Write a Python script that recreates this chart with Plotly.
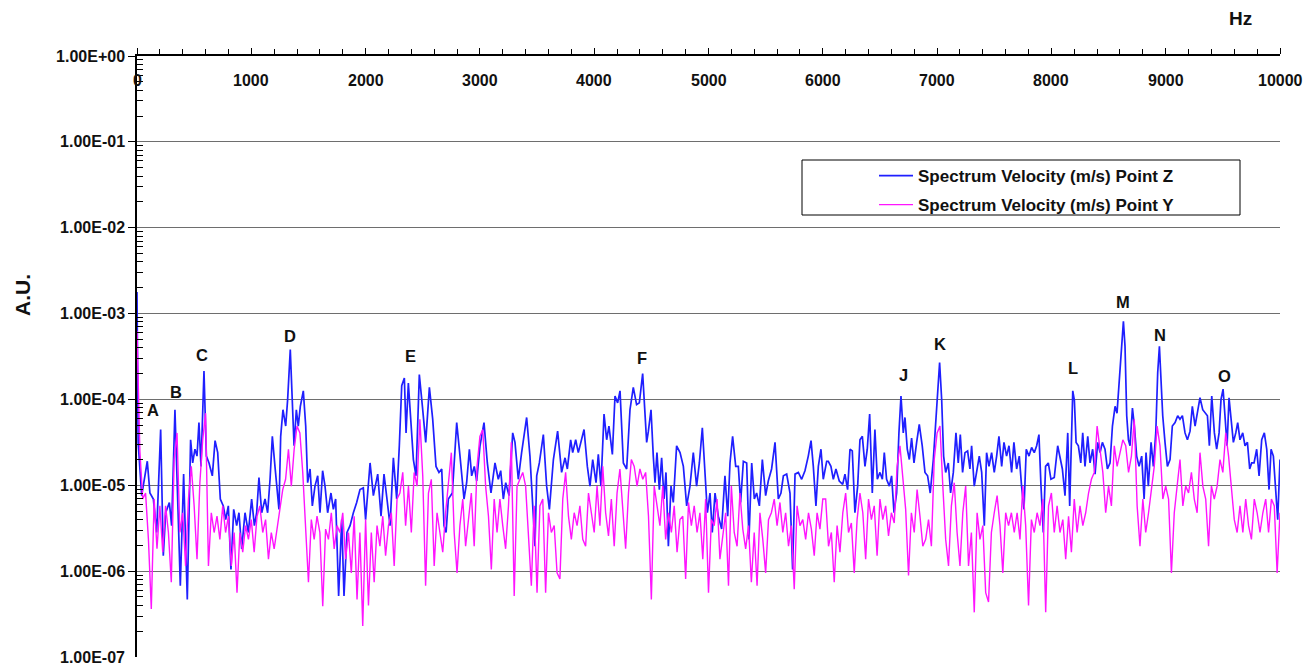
import numpy as np
import plotly.graph_objects as go

# ---------------- data ----------------
# Point Z spectrum: frequency (Hz) and log10 of amplitude
z_freq = [0, 10, 41, 90, 113, 143, 172, 207, 230, 251, 283, 303, 332, 353, 379, 408, 440, 469, 487, 507,
          525, 542, 560, 586, 607, 630, 659, 683, 706, 729, 755, 776, 799, 822, 846, 872, 892, 916, 945, 974,
          1003, 1027, 1047, 1067, 1091, 1120, 1143, 1164, 1184, 1207, 1225, 1242, 1257, 1277, 1301, 1318, 1341,
          1359, 1374, 1394, 1411, 1429, 1455, 1476, 1493, 1514, 1534, 1557, 1581, 1601, 1624, 1645, 1668, 1697,
          1718, 1738, 1764, 1791, 1811, 1837, 1864, 1893, 1922, 1951, 1980, 2000,
          2039, 2068, 2106, 2135, 2161, 2187, 2214, 2243, 2272, 2295, 2316, 2339, 2354, 2374, 2397, 2418, 2441,
          2470, 2497, 2526, 2558, 2587, 2616, 2642, 2666, 2686, 2704, 2724, 2759, 2797, 2826, 2861, 2884, 2908,
          2928, 2951, 2972, 3001, 3036, 3065, 3097, 3132, 3161, 3182, 3205, 3226, 3255, 3287, 3307, 3336, 3365,
          3409, 3438, 3462, 3482, 3497, 3520, 3555, 3584, 3608, 3643, 3680, 3715, 3745, 3765, 3794, 3812, 3838,
          3861, 3911, 3940, 3963, 3987, 4016,
          4036, 4059, 4086, 4109, 4129, 4159, 4182, 4205, 4226, 4255, 4284, 4313, 4342, 4371, 4395, 4424, 4444,
          4459, 4474, 4497, 4517, 4532, 4549, 4570, 4590, 4611, 4628, 4649, 4672, 4692, 4721, 4751, 4780, 4809,
          4838, 4867, 4896, 4920, 4946, 4969, 4990, 5013, 5033, 5057, 5086, 5115, 5144, 5168, 5188, 5211, 5238,
          5261, 5281, 5305, 5334, 5354, 5378, 5401, 5421, 5445, 5471, 5500, 5523, 5552, 5582, 5611, 5634, 5655,
          5684, 5713, 5736, 5757, 5786, 5815, 5844, 5873, 5897, 5917, 5940, 5961, 5984, 6004, 6034,
          6048, 6071, 6092, 6115, 6144, 6174, 6194, 6217, 6238, 6258, 6281, 6305, 6325, 6346, 6369, 6389, 6410,
          6433, 6456, 6477, 6500, 6521, 6538, 6558, 6582, 6602, 6623, 6646, 6666, 6684, 6704, 6719, 6739, 6757,
          6777, 6798, 6821, 6844, 6870, 6894, 6917, 6940, 6967, 6987, 7005, 7022, 7040, 7057, 7075, 7098, 7118,
          7142, 7165, 7185, 7203, 7223, 7244, 7267, 7287, 7302, 7325, 7346, 7369, 7390, 7413, 7433, 7454, 7477,
          7500, 7521, 7541, 7565, 7585, 7608, 7629, 7652, 7672, 7696, 7719, 7739, 7760, 7780, 7804, 7827, 7850,
          7871, 7891, 7909, 7929, 7949, 7973, 7996, 8025,
          8055, 8076, 8096, 8119, 8143, 8160, 8172, 8187, 8201, 8216, 8236, 8257, 8274, 8294, 8318, 8338, 8361,
          8382, 8405, 8426, 8446, 8469, 8490, 8513, 8534, 8557, 8574, 8592, 8609, 8630, 8644, 8659, 8674, 8688,
          8709, 8726, 8746, 8767, 8790, 8811, 8828, 8848, 8872, 8892, 8913, 8930, 8945, 8959, 8974, 8994, 9015,
          9038, 9058, 9082, 9105, 9125, 9146, 9169, 9190, 9213, 9233, 9257, 9280, 9300, 9324, 9344, 9365, 9382,
          9403, 9426, 9446, 9467, 9484, 9502, 9519, 9537, 9554, 9572, 9592, 9613, 9630, 9650, 9674, 9694, 9715,
          9735, 9752, 9773, 9796, 9817, 9840, 9863, 9884, 9904, 9922, 9942, 9962, 9980, 10000]

z_log = [-2.75, -4.50, -5.12, -4.72, -5.09, -5.16, -5.55, -4.35, -5.82, -5.32, -5.20, -5.47, -4.12, -5.16, -6.17,
         -4.87, -6.33, -4.47, -4.74, -4.58, -4.66, -4.27, -4.78, -3.67, -4.66, -4.74, -4.89, -4.48, -4.62, -5.16,
         -5.24, -5.40, -5.24, -5.98, -5.28, -5.47, -5.32, -5.74, -5.32, -5.55, -5.16, -5.47, -5.32, -4.91, -5.32,
         -5.16, -5.32, -4.93, -4.43, -4.78, -5.01, -5.28, -4.43, -4.12, -4.31, -4.00, -3.42, -4.00, -4.54, -4.12,
         -4.31, -4.08, -3.90, -4.31, -4.97, -4.81, -5.24, -5.01, -4.89, -5.32, -4.83, -5.01, -5.32, -5.09, -5.28,
         -5.16, -6.29, -5.40, -6.29, -5.55, -5.47, -5.32, -5.20, -5.05, -5.03, -5.40,
         -4.74, -5.12, -4.87, -5.36, -4.87, -5.16, -5.47, -4.68, -5.16, -4.54, -3.84, -3.75, -4.39, -3.81, -4.35,
         -4.70, -4.89, -3.71, -4.08, -4.50, -3.86, -4.23, -4.78, -4.85, -4.81, -5.47, -5.55, -5.16, -5.09, -4.27,
         -4.66, -5.16, -4.97, -4.58, -4.89, -4.78, -4.95, -4.54, -4.27, -4.74, -5.09, -4.74, -4.93, -4.83, -5.16,
         -4.97, -5.12, -4.39, -4.50, -4.93, -4.62, -4.21, -4.66, -5.24, -5.71, -4.89, -4.74, -4.41, -5.01, -5.28,
         -4.70, -4.37, -4.85, -4.68, -4.81, -4.47, -4.62, -4.47, -4.62, -4.35, -4.78, -5.01, -4.70, -4.97,
         -4.64, -5.01, -4.17, -4.47, -4.31, -4.64, -3.96, -4.04, -3.90, -4.74, -4.81, -4.12, -3.86, -4.06, -4.04,
         -3.70, -4.12, -4.50, -4.37, -4.12, -4.66, -4.97, -4.62, -5.05, -4.68, -5.16, -4.85, -5.71, -5.01, -5.20,
         -4.54, -4.62, -4.78, -5.24, -5.01, -4.62, -5.01, -4.74, -4.33, -4.81, -5.32, -5.09, -5.55, -5.09, -5.36,
         -5.51, -4.89, -5.36, -4.74, -4.43, -4.78, -4.78, -5.20, -4.72, -4.74, -5.63, -4.74, -5.16, -5.09, -5.24,
         -4.70, -5.12, -4.95, -4.81, -4.50, -5.16, -5.09, -4.89, -4.87, -5.09, -5.98, -4.87, -4.85, -4.93, -4.83,
         -4.66, -4.48, -4.78, -5.24, -4.78, -4.58, -4.93, -4.72,
         -4.72, -4.78, -4.93, -4.81, -4.95, -4.99, -4.87, -5.05, -4.58, -4.60, -5.32, -5.01, -4.47, -4.43, -4.78,
         -4.58, -4.17, -5.09, -4.35, -4.93, -4.85, -4.93, -4.62, -4.93, -5.01, -4.89, -5.32, -5.09, -4.39, -3.96,
         -4.39, -4.21, -4.58, -4.70, -4.45, -4.74, -4.50, -4.29, -4.54, -4.85, -4.89, -5.09, -4.70, -4.31, -3.92,
         -3.57, -4.00, -4.66, -4.85, -4.74, -5.09, -4.85, -4.39, -4.74, -4.41, -4.85, -4.62, -4.60, -4.81, -4.54,
         -5.01, -4.85, -4.66, -4.85, -5.47, -4.62, -4.78, -4.62, -4.85, -4.66, -4.43, -4.78, -4.50, -4.66, -4.54,
         -4.85, -4.50, -4.81, -4.66, -5.01, -5.28, -4.58, -4.66, -4.56, -4.62, -4.54, -4.41, -5.01, -5.55, -4.78,
         -4.74, -4.93, -4.91,
         -4.54, -4.66, -4.81, -5.12, -4.39, -5.24, -4.47, -3.90, -4.01, -4.50, -4.54, -4.74, -4.39, -4.78, -4.43,
         -4.74, -4.58, -4.87, -4.50, -4.62, -4.50, -4.58, -4.81, -4.74, -4.31, -4.08, -4.16, -3.84, -3.46, -3.09,
         -3.38, -4.19, -4.47, -4.54, -4.10, -4.31, -4.66, -4.78, -4.66, -5.16, -4.62, -5.01, -4.50, -4.78, -4.39,
         -3.69, -3.38, -3.73, -4.19, -4.50, -4.78, -4.70, -4.31, -4.27, -4.19, -4.23, -4.19, -4.39, -4.47, -4.37,
         -4.08, -4.31, -4.12, -3.98, -4.12, -4.16, -4.19, -4.54, -3.96, -4.39, -4.58, -4.39, -4.00, -3.88, -4.16,
         -4.54, -3.98, -4.23, -4.50, -4.39, -4.27, -4.47, -4.39, -4.54, -4.50, -4.81, -4.74, -4.74, -4.58, -4.89,
         -4.47, -4.39, -4.58, -5.05, -4.58, -4.66, -5.05, -5.40, -4.70]

# Point Y spectrum: log10 of amplitude, one value every 25 Hz from 0 Hz
y_step_hz = 25
y_log = [
    # 0 - 2000 Hz
    -3.20, -4.60, -5.16, -5.09, -5.63, -6.44, -5.16, -5.74, -5.24, -5.78, -5.24, -5.55, -6.13, -4.70, -4.39,
    -5.55, -5.32, -5.94, -5.16, -4.78, -5.24, -5.86, -4.97, -4.47, -4.16, -5.94, -5.32, -5.55, -5.36, -5.63,
    -5.24, -5.55, -5.36, -5.94, -5.55, -6.25, -5.55, -5.78, -5.47, -5.63, -5.40, -5.78, -5.36, -5.24, -5.55,
    -5.40, -5.86, -5.55, -5.74, -5.51, -5.32, -5.05, -4.93, -4.58, -5.01, -4.58, -4.31, -4.39, -4.85, -5.55,
    -6.13, -5.40, -5.63, -5.36, -5.55, -6.41, -5.51, -5.63, -5.32, -5.74, -5.47, -5.55, -5.32, -5.86, -5.55,
    -6.02, -5.36, -6.33, -5.55, -6.64, -5.40,
    # 2025 - 4000 Hz
    -6.40, -5.55, -6.13, -5.47, -5.71, -5.36, -5.82, -5.47, -5.32, -5.94, -5.16, -5.09, -4.85, -5.47, -5.01,
    -5.55, -4.85, -5.01, -4.23, -4.89, -6.17, -5.09, -4.93, -5.94, -5.32, -5.55, -5.78, -5.32, -5.01, -4.62,
    -5.55, -6.02, -5.47, -5.16, -5.71, -5.36, -5.09, -5.71, -4.78, -4.43, -4.35, -5.01, -5.36, -5.98, -5.16,
    -5.55, -5.16, -5.47, -5.74, -5.24, -4.50, -6.29, -5.01, -4.93, -4.85, -5.01, -5.55, -6.17, -5.24, -6.25,
    -5.24, -5.16, -6.25, -5.32, -5.55, -5.47, -6.02, -6.09, -5.16, -4.85, -5.36, -5.63, -5.32, -5.47, -5.24,
    -5.63, -5.71, -5.09, -5.32, -5.55,
    # 4025 - 6000 Hz
    -5.01, -5.47, -4.78, -5.32, -5.59, -5.16, -5.71, -5.09, -4.81, -5.32, -5.74, -5.09, -4.70, -4.78, -5.01,
    -4.81, -4.93, -4.85, -5.36, -6.33, -5.01, -5.24, -5.47, -5.01, -5.63, -5.32, -5.55, -5.24, -5.78, -5.40,
    -5.36, -6.09, -5.20, -5.47, -5.24, -5.55, -5.32, -5.86, -5.16, -6.25, -5.40, -5.47, -5.16, -5.86, -5.55,
    -5.32, -6.17, -5.01, -5.55, -5.71, -5.09, -5.51, -5.74, -5.47, -6.13, -5.55, -6.17, -5.32, -5.63, -6.02,
    -5.40, -5.32, -5.16, -5.47, -5.20, -5.55, -5.32, -5.71, -5.47, -6.21, -5.24, -5.47, -5.40, -5.63, -5.32,
    -5.51, -5.82, -5.32, -5.51, -5.16,
    # 6025 - 8025 Hz
    -5.16, -5.71, -5.55, -6.13, -5.47, -5.78, -5.32, -5.09, -5.55, -5.44, -6.02, -5.40, -5.09, -5.32, -5.86,
    -5.16, -5.40, -5.24, -5.82, -5.16, -5.40, -5.24, -5.59, -5.32, -5.44, -4.78, -4.54, -4.93, -5.28, -6.05,
    -5.32, -5.55, -5.05, -5.36, -5.71, -5.63, -5.40, -5.71, -4.70, -4.39, -4.31, -5.01, -5.63, -5.94, -5.24,
    -4.97, -5.55, -5.94, -5.32, -5.01, -5.94, -5.55, -6.48, -5.32, -5.63, -5.47, -6.25, -6.36, -5.55, -5.32,
    -5.12, -5.47, -6.02, -5.32, -5.47, -5.32, -5.55, -5.32, -5.63, -5.01, -5.47, -6.40, -5.40, -5.55, -5.32,
    -5.47, -5.16, -6.48, -5.24, -5.09, -5.55,
    # 8050 - 10000 Hz
    -5.24, -5.55, -5.40, -5.86, -5.36, -5.78, -5.16, -5.55, -5.24, -5.47, -5.32, -5.09, -4.93, -4.85, -4.31,
    -4.58, -4.85, -5.32, -5.01, -5.24, -4.54, -4.78, -4.62, -4.47, -4.54, -4.85, -4.66, -4.23, -5.24, -5.71,
    -5.16, -5.55, -5.32, -5.01, -4.78, -4.31, -4.54, -5.16, -5.01, -5.16, -6.02, -5.32, -5.01, -4.70, -5.24,
    -5.01, -5.09, -4.85, -5.16, -5.32, -4.62, -5.01, -5.16, -5.71, -5.01, -5.16, -5.01, -4.70, -4.85, -4.39,
    -4.66, -5.01, -5.40, -5.55, -5.24, -5.55, -5.16, -5.47, -5.63, -5.16, -5.32, -5.55, -5.32, -5.16, -5.55,
    -5.16, -5.24, -6.02, -5.32,
]

peak_labels = ["A", "B", "C", "D", "E", "F", "J", "K", "L", "M", "N", "O"]
peak_freq = [140, 341, 569, 1339, 2397, 4419, 6702, 7026, 8189, 8626, 8950, 9511]
peak_label_log = [-4.12, -3.91, -3.48, -3.26, -3.49, -3.52, -3.72, -3.35, -3.63, -2.86, -3.25, -3.73]

x_ticks = [0, 1000, 2000, 3000, 4000, 5000, 6000, 7000, 8000, 9000, 10000]
x_tick_text = ["0", "1000", "2000", "3000", "4000", "5000", "6000", "7000", "8000", "9000", "10000"]
y_tick_vals = [1e0, 1e-1, 1e-2, 1e-3, 1e-4, 1e-5, 1e-6, 1e-7]
y_tick_text = ["1.00E+00", "1.00E-01", "1.00E-02", "1.00E-03", "1.00E-04", "1.00E-05", "1.00E-06", "1.00E-07"]

# ---------------- figure ----------------
FONT = "Arial, 'Liberation Sans', sans-serif"
W, H = 1304, 665
L, R, T, B = 137, 24, 56, 8
PW, PH = W - L - R, H - T - B
GRID = "#6e6e6e"


def px_x(px):
    return (px - L) / PW


def px_y(py):
    return 1 - (py - T) / PH


fig = go.Figure()

fig.add_trace(go.Scatter(
    x=z_freq, y=np.power(10.0, z_log), mode="lines",
    name="Spectrum Velocity (m/s) Point Z", legendgroup="z",
    line=dict(color="#1f1fff", width=1.7),
))
fig.add_trace(go.Scatter(
    x0=0, dx=y_step_hz, y=np.power(10.0, y_log), mode="lines",
    name="Spectrum Velocity (m/s) Point Y", legendgroup="y",
    line=dict(color="#ff14ff", width=1.4),
))

minor_y = [k * 10.0 ** e for e in range(-7, 0) for k in range(2, 10)]

fig.update_layout(
    width=W, height=H,
    margin=dict(l=L, r=R, t=T, b=B, autoexpand=False),
    paper_bgcolor="white", plot_bgcolor="white",
    font=dict(family=FONT, color="#111111"),
    showlegend=True,
    legend=dict(
        x=px_x(874), y=px_y(158), xanchor="left", yanchor="top",
        bgcolor="rgba(0,0,0,0)", borderwidth=0,
        font=dict(family=FONT, size=17, weight="bold", color="#111111"),
        tracegroupgap=4, itemwidth=34,
    ),
    xaxis=dict(
        side="top", range=[0, 10000], showgrid=False, zeroline=False, automargin=False,
        showline=True, linecolor="black", linewidth=1.5,
        tickmode="array", tickvals=x_ticks, ticks="outside", ticklen=6, tickcolor="black",
        showticklabels=False,
        minor=dict(dtick=200, ticks="outside", ticklen=5, tickcolor="black", showgrid=False),
    ),
    yaxis=dict(
        type="log", range=[-7, 0], zeroline=False, automargin=False,
        showline=True, linecolor="black", linewidth=1.5,
        showgrid=True, gridcolor=GRID, gridwidth=1.2,
        tickmode="array", tickvals=y_tick_vals[:-1], ticktext=y_tick_text[:-1],
        ticks="outside", ticklen=7, tickcolor="black",
        tickfont=dict(family=FONT, size=16, weight="bold", color="#111111"),
        minor=dict(tickmode="array", tickvals=minor_y, ticks="inside", ticklen=6,
                   tickcolor="black", showgrid=False),
    ),
)

# bottom decade (1.00E-07) sits on the lower edge of the plot: grid line, tick and label
fig.add_shape(type="line", xref="paper", yref="y", x0=0, x1=1,
              y0=np.log10(y_tick_vals[-1]), y1=np.log10(y_tick_vals[-1]),
              line=dict(color=GRID, width=1.5))
fig.add_shape(type="line", xref="paper", yref="y", x0=px_x(130), x1=0,
              y0=np.log10(y_tick_vals[-1]), y1=np.log10(y_tick_vals[-1]),
              line=dict(color="black", width=1.2))
fig.add_annotation(text="<b>%s</b>" % y_tick_text[-1], xref="paper", yref="y",
                   x=px_x(127), y=np.log10(y_tick_vals[-1]), xanchor="right", yanchor="middle",
                   showarrow=False, font=dict(family=FONT, size=16, color="#111111"))

# frequency tick labels sit just below the top axis line
for v, t in zip(x_ticks, x_tick_text):
    fig.add_annotation(text="<b>%s</b>" % t, x=v, xref="x", y=px_y(81), yref="paper",
                       xanchor="center", yanchor="middle",
                       showarrow=False, font=dict(family=FONT, size=16, color="#111111"))

# legend frame
fig.add_shape(type="rect", xref="paper", yref="paper",
              x0=px_x(802), x1=px_x(1240), y0=px_y(215), y1=px_y(160),
              line=dict(color="black", width=1), fillcolor="white", layer="below")

# axis titles
fig.add_annotation(text="<b>A.U.</b>", xref="paper", yref="paper",
                   x=px_x(22), y=px_y(295), textangle=-90, xanchor="center", yanchor="middle",
                   showarrow=False, font=dict(family=FONT, size=21, color="#111111"))
fig.add_annotation(text="<b>Hz</b>", xref="paper", yref="paper",
                   x=px_x(1240), y=px_y(18), xanchor="center", yanchor="middle",
                   showarrow=False, font=dict(family=FONT, size=19, color="#111111"))

# peak letters
for lab, fx, ly in zip(peak_labels, peak_freq, peak_label_log):
    fig.add_annotation(text="<b>%s</b>" % lab, x=fx, y=ly, xref="x", yref="y",
                       xanchor="center", yanchor="middle",
                       showarrow=False, font=dict(family=FONT, size=16.5, color="#111111"))

# remove the default 8px page margin so the figure fills the window exactly
fig.write_html("out.html", config={"displayModeBar": False},
               post_script="document.body.style.margin='0px';document.body.style.overflow='hidden';")
